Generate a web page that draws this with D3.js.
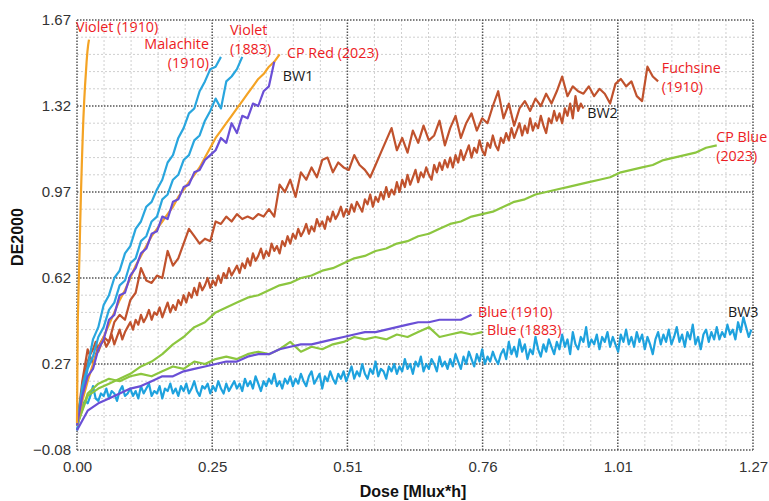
<!DOCTYPE html>
<html>
<head>
<meta charset="utf-8">
<script src="https://cdn.jsdelivr.net/npm/d3@7/dist/d3.min.js"></script>
<style>
    body { margin: 0; background: #fff; }
    svg { display: block; }
</style>
</head>
<body>
<svg id="chart" width="769" height="501"></svg>
<script>
// Axis ranges and ticks
const doseMax = 1.268;
const deMin = -0.08, deMax = 1.67;
const xTicks = [0, 0.2536, 0.5072, 0.7608, 1.0144, 1.268];
const yTicks = [-0.08, 0.27, 0.62, 0.97, 1.32, 1.67];

// DE2000 readings, one value per dose step (Mlux*h)
const violet1910Step = 0.0015;
const violet1910DE = [0.03, 0.45, 0.58, 0.70, 0.84, 0.97, 1.08, 1.18, 1.27, 1.34, 1.40, 1.45, 1.50, 1.54, 1.57, 1.59];

const malachite1910Step = 0.01;
const malachite1910DE = [0.02, 0.18, 0.26, 0.37, 0.42, 0.51, 0.55, 0.62, 0.65, 0.72, 0.75, 0.82, 0.85, 0.91,
    0.93, 0.98, 1.02, 1.09, 1.12, 1.19, 1.23, 1.29, 1.31, 1.38, 1.42, 1.47, 1.48, 1.52];

const violet1883Step = 0.01;
const violet1883DE = [0.02, 0.14, 0.25, 0.30, 0.38, 0.42, 0.49, 0.52, 0.59, 0.61, 0.68, 0.70, 0.77, 0.79, 0.85, 0.87,
    0.94, 0.96, 1.02, 1.04, 1.10, 1.12, 1.18, 1.20, 1.26, 1.30, 1.35, 1.31, 1.42, 1.44, 1.47, 1.52];

const cpRedStep = 0.01;
const cpRedDE = [0.02, 0.12, 0.20, 0.27, 0.33, 0.38, 0.43, 0.48, 0.53, 0.57, 0.62, 0.67, 0.71, 0.75, 0.79, 0.82,
    0.85, 0.88, 0.91, 0.95, 0.98, 1.01, 1.04, 1.07, 1.11, 1.15, 1.19, 1.22, 1.25, 1.28, 1.31, 1.34, 1.37, 1.40,
    1.43, 1.45, 1.48, 1.50, 1.53];

const bw1Step = 0.01;
const bw1DE = [0.02, 0.14, 0.22, 0.25, 0.33, 0.37, 0.45, 0.47, 0.55, 0.56, 0.63, 0.66, 0.72, 0.74, 0.80, 0.81,
    0.87, 0.86, 0.93, 0.94, 0.99, 1.00, 1.05, 1.06, 1.10, 1.12, 1.14, 1.19, 1.17, 1.25, 1.21, 1.28, 1.27, 1.33,
    1.32, 1.38, 1.40, 1.50];

const fuchsine1910Step = 0.01;
const fuchsine1910DE = [0.02, 0.20, 0.33, 0.27, 0.34, 0.38, 0.36, 0.44, 0.47, 0.45,
    0.53, 0.56, 0.66, 0.61, 0.60, 0.63, 0.62, 0.73, 0.67, 0.70,
    0.76, 0.82, 0.79, 0.76, 0.78, 0.77, 0.85, 0.84, 0.87, 0.85,
    0.88, 0.86, 0.87, 0.86, 0.88, 0.87, 0.90, 0.87, 1.00, 0.97,
    1.02, 0.95, 1.05, 1.02, 1.07, 1.03, 1.10, 1.11, 1.05, 1.09,
    1.07, 1.06, 1.12, 1.08, 1.06, 1.03, 1.08, 1.13, 1.18, 1.23,
    1.14, 1.19, 1.13, 1.22, 1.17, 1.24, 1.18, 1.20, 1.26, 1.16,
    1.23, 1.28, 1.19, 1.25, 1.29, 1.22, 1.27, 1.25, 1.32, 1.38,
    1.27, 1.33, 1.24, 1.31, 1.34, 1.30, 1.35, 1.32, 1.37, 1.33,
    1.38, 1.44, 1.36, 1.40, 1.38, 1.37, 1.40, 1.36, 1.39, 1.37,
    1.33, 1.41, 1.43, 1.40, 1.42, 1.36, 1.34, 1.48, 1.44, 1.42];

const bw2Step = 0.005;
const bw2DE = [0.02, 0.10, 0.17, 0.23, 0.28, 0.31, 0.33, 0.36, 0.32, 0.35, 0.37, 0.34, 0.36, 0.39, 0.35, 0.38, 0.41, 0.37, 0.40, 0.42,
    0.44, 0.41, 0.45, 0.43, 0.47, 0.44, 0.46, 0.49, 0.45, 0.48, 0.47, 0.50, 0.46, 0.49, 0.52, 0.48, 0.51, 0.49, 0.53, 0.51,
    0.55, 0.52, 0.56, 0.54, 0.58, 0.55, 0.60, 0.57, 0.59, 0.62, 0.58, 0.61, 0.59, 0.63, 0.60, 0.64, 0.62, 0.66, 0.63, 0.65,
    0.67, 0.64, 0.68, 0.66, 0.70, 0.67, 0.72, 0.69, 0.71, 0.74, 0.70, 0.73, 0.71, 0.76, 0.73, 0.75, 0.72, 0.77, 0.75, 0.79,
    0.76, 0.80, 0.78, 0.82, 0.79, 0.81, 0.84, 0.80, 0.83, 0.81, 0.86, 0.83, 0.85, 0.82, 0.87, 0.85, 0.89, 0.86, 0.88, 0.91,
    0.87, 0.90, 0.88, 0.92, 0.89, 0.93, 0.91, 0.89, 0.94, 0.92, 0.96, 0.91, 0.95, 0.93, 0.97, 0.94, 0.99, 0.95, 0.98, 0.96,
    1.01, 0.97, 1.02, 0.99, 1.04, 1.00, 1.03, 1.06, 1.01, 1.05, 1.03, 1.07, 1.04, 1.02, 1.08, 1.05, 1.09, 1.06, 1.10, 1.07,
    1.11, 1.07, 1.12, 1.09, 1.14, 1.10, 1.13, 1.16, 1.11, 1.15, 1.13, 1.18, 1.14, 1.12, 1.17, 1.15, 1.20, 1.16, 1.14, 1.19,
    1.17, 1.21, 1.18, 1.23, 1.19, 1.22, 1.25, 1.20, 1.24, 1.21, 1.27, 1.22, 1.25, 1.23, 1.28, 1.24, 1.21, 1.27, 1.25, 1.30,
    1.26, 1.29, 1.25, 1.31, 1.28, 1.33, 1.27, 1.36, 1.30, 1.33, 1.31];

const cpBlueStep = 0.02;
const cpBlueDE = [0.02, 0.14, 0.17, 0.19, 0.21, 0.23, 0.26, 0.28, 0.31, 0.35,
    0.38, 0.42, 0.44, 0.48, 0.50, 0.52, 0.54, 0.55, 0.57, 0.59,
    0.60, 0.62, 0.63, 0.65, 0.66, 0.68, 0.70, 0.71, 0.73, 0.74,
    0.76, 0.77, 0.79, 0.80, 0.82, 0.84, 0.85, 0.87, 0.88, 0.89,
    0.91, 0.93, 0.94, 0.96, 0.97, 0.98, 0.99, 1.00, 1.01, 1.02,
    1.03, 1.05, 1.06, 1.07, 1.08, 1.10, 1.11, 1.12, 1.13, 1.15, 1.16];

const blue1910Step = 0.02;
const blue1910DE = [0.00, 0.08, 0.11, 0.13, 0.15, 0.17, 0.18, 0.20, 0.22, 0.22,
    0.24, 0.25, 0.26, 0.27, 0.28, 0.28, 0.30, 0.31, 0.31, 0.33,
    0.34, 0.35, 0.35, 0.36, 0.37, 0.38, 0.39, 0.40, 0.40, 0.41,
    0.42, 0.43, 0.44, 0.44, 0.45, 0.45, 0.45, 0.47];

const blue1883Step = 0.02;
const blue1883DE = [0.02, 0.15, 0.19, 0.21, 0.20, 0.22, 0.23, 0.22, 0.24, 0.26,
    0.25, 0.28, 0.27, 0.29, 0.30, 0.29, 0.31, 0.32, 0.31, 0.33,
    0.36, 0.32, 0.34, 0.33, 0.35, 0.36, 0.38, 0.37, 0.38, 0.37,
    0.39, 0.38, 0.40, 0.42, 0.38, 0.39, 0.40, 0.39, 0.40];

const bw3Step = 0.005;
const bw3DE = [0.00, 0.06, 0.10, 0.12, 0.11, 0.14, 0.18, 0.13, 0.12, 0.15, 0.14, 0.17, 0.13, 0.16, 0.15, 0.12, 0.16, 0.18, 0.14, 0.15,
    0.17, 0.14, 0.16, 0.13, 0.18, 0.15, 0.17, 0.19, 0.14, 0.16, 0.15, 0.18, 0.13, 0.17, 0.16, 0.19, 0.15, 0.17, 0.14, 0.18,
    0.16, 0.19, 0.15, 0.17, 0.20, 0.16, 0.14, 0.18, 0.17, 0.19, 0.15, 0.18, 0.16, 0.20, 0.17, 0.15, 0.19, 0.16, 0.18, 0.20,
    0.17, 0.19, 0.16, 0.21, 0.18, 0.20, 0.17, 0.22, 0.19, 0.16, 0.20, 0.18, 0.21, 0.19, 0.23, 0.18, 0.20, 0.17, 0.21, 0.19,
    0.22, 0.18, 0.21, 0.19, 0.23, 0.20, 0.18, 0.22, 0.24, 0.19, 0.21, 0.23, 0.17, 0.22, 0.20, 0.24, 0.21, 0.19, 0.23, 0.21,
    0.24, 0.20, 0.23, 0.26, 0.21, 0.24, 0.22, 0.27, 0.23, 0.21, 0.25, 0.23, 0.28, 0.22, 0.25, 0.24, 0.21, 0.26, 0.24, 0.27,
    0.23, 0.26, 0.24, 0.29, 0.25, 0.27, 0.23, 0.28, 0.26, 0.30, 0.24, 0.27, 0.25, 0.29, 0.27, 0.24, 0.30, 0.26, 0.28, 0.25,
    0.29, 0.26, 0.31, 0.28, 0.25, 0.30, 0.27, 0.32, 0.29, 0.26, 0.31, 0.28, 0.33, 0.27, 0.30, 0.28, 0.32, 0.29, 0.27, 0.31,
    0.33, 0.29, 0.36, 0.31, 0.34, 0.30, 0.37, 0.32, 0.35, 0.29, 0.33, 0.31, 0.38, 0.33, 0.30, 0.35, 0.32, 0.37, 0.34, 0.31,
    0.36, 0.33, 0.39, 0.34, 0.37, 0.31, 0.40, 0.35, 0.33, 0.38, 0.36, 0.42, 0.34, 0.37, 0.35, 0.39, 0.33, 0.38, 0.36, 0.40,
    0.34, 0.38, 0.35, 0.32, 0.39, 0.36, 0.41, 0.35, 0.38, 0.34, 0.40, 0.36, 0.39, 0.33, 0.38, 0.35, 0.31, 0.37, 0.40, 0.35,
    0.39, 0.36, 0.41, 0.35, 0.38, 0.42, 0.36, 0.39, 0.34, 0.40, 0.37, 0.43, 0.35, 0.38, 0.33, 0.39, 0.41, 0.36, 0.40, 0.37,
    0.42, 0.37, 0.40, 0.38, 0.43, 0.39, 0.41, 0.37, 0.44, 0.40, 0.46, 0.42, 0.38, 0.41];

const red = "#ed1c24", black = "#1a1a1a";

// drawn back to front
const series = [
    { name: "BW3", color: "#1ea2de", step: bw3Step, values: bw3DE },
    { name: "Blue (1883)", color: "#8cc63f", step: blue1883Step, values: blue1883DE },
    { name: "Blue (1910)", color: "#6a4fd6", step: blue1910Step, values: blue1910DE },
    { name: "CP Blue (2023)", color: "#8cc63f", step: cpBlueStep, values: cpBlueDE },
    { name: "BW2", color: "#c0522d", step: bw2Step, values: bw2DE },
    { name: "Fuchsine (1910)", color: "#c0522d", step: fuchsine1910Step, values: fuchsine1910DE },
    { name: "Violet (1883)", color: "#29a6de", step: violet1883Step, values: violet1883DE },
    { name: "Malachite (1910)", color: "#29a6de", step: malachite1910Step, values: malachite1910DE },
    { name: "CP Red (2023)", color: "#f4a324", step: cpRedStep, values: cpRedDE },
    { name: "BW1", color: "#6a4fd6", step: bw1Step, values: bw1DE },
    { name: "Violet (1910)", color: "#f4a324", step: violet1910Step, values: violet1910DE }
];

// text annotations, anchored in data units
const annotations = [
    { lines: ["Violet (1910)"], dose: -0.002, de: 1.621, anchor: "start", color: red },
    { lines: ["Malachite", "(1910)"], dose: 0.2476, de: 1.552, anchor: "end", color: red },
    { lines: ["Violet", "(1883)"], dose: 0.287, de: 1.609, anchor: "start", color: red },
    { lines: ["CP Red (2023)"], dose: 0.394, de: 1.515, anchor: "start", color: red },
    { lines: ["BW1"], dose: 0.386, de: 1.422, anchor: "start", color: black },
    { lines: ["Fuchsine", "(1910)"], dose: 1.097, de: 1.454, anchor: "start", color: red },
    { lines: ["BW2"], dose: 0.957, de: 1.271, anchor: "start", color: black },
    { lines: ["CP Blue", "(2023)"], dose: 1.199, de: 1.173, anchor: "start", color: red },
    { lines: ["Blue (1910)"], dose: 0.752, de: 0.461, anchor: "start", color: red },
    { lines: ["Blue (1883)"], dose: 0.769, de: 0.388, anchor: "start", color: red },
    { lines: ["BW3"], dose: 1.221, de: 0.461, anchor: "start", color: black }
];

const svg = d3.select("#chart");
svg.append("rect").attr("width", 769).attr("height", 501).attr("fill", "#fff");

const x = d3.scaleLinear().domain([0, doseMax]).range([77, 753]);
const y = d3.scaleLinear().domain([deMin, deMax]).range([450, 20]);

// Grid: 5 minor divisions per major step
const gGrid = svg.append("g");
const xMinor = d3.range(0, 26).map(i => i * doseMax / 25).filter((d, i) => i % 5 !== 0);
const yMinor = d3.range(0, 26).map(i => deMin + i * 0.07).filter((d, i) => i % 5 !== 0);

gGrid.selectAll(".xminor").data(xMinor).join("line")
    .attr("x1", d => x(d)).attr("x2", d => x(d))
    .attr("y1", y(deMin)).attr("y2", y(deMax))
    .attr("stroke", "#cfcfcf").attr("stroke-width", 1).attr("stroke-dasharray", "2,2");
gGrid.selectAll(".yminor").data(yMinor).join("line")
    .attr("y1", d => y(d)).attr("y2", d => y(d))
    .attr("x1", x(0)).attr("x2", x(doseMax))
    .attr("stroke", "#cfcfcf").attr("stroke-width", 1).attr("stroke-dasharray", "2,2");

gGrid.selectAll(".xmajor").data(xTicks).join("line")
    .attr("x1", d => x(d)).attr("x2", d => x(d))
    .attr("y1", y(deMin)).attr("y2", y(deMax))
    .attr("stroke", "#555").attr("stroke-width", 1.5).attr("stroke-dasharray", "1.5,1.5");
gGrid.selectAll(".ymajor").data(yTicks).join("line")
    .attr("y1", d => y(d)).attr("y2", d => y(d))
    .attr("x1", x(0)).attr("x2", x(doseMax))
    .attr("stroke", "#555").attr("stroke-width", 1.5).attr("stroke-dasharray", "1.5,1.5");

// Axes (labels only)
const fmt = d3.format(".2f");
const xAxis = svg.append("g").attr("transform", `translate(0,${y(deMin)})`)
    .call(d3.axisBottom(x).tickValues(xTicks).tickFormat(fmt).tickSize(0).tickPadding(11));
const yAxis = svg.append("g").attr("transform", `translate(${x(0)},0)`)
    .call(d3.axisLeft(y).tickValues(yTicks).tickFormat(fmt).tickSize(0).tickPadding(6));
[xAxis, yAxis].forEach(a => {
    a.select(".domain").remove();
    a.selectAll("text")
        .attr("font-family", "Liberation Sans, Arial, sans-serif")
        .attr("font-size", 15)
        .attr("fill", "#333");
});

svg.append("text")
    .attr("x", 413).attr("y", 497)
    .attr("text-anchor", "middle")
    .attr("font-family", "Liberation Sans, Arial, sans-serif")
    .attr("font-size", 16).attr("font-weight", "bold").attr("fill", "#111")
    .text("Dose [Mlux*h]");

svg.append("text")
    .attr("transform", "translate(23,237) rotate(-90)")
    .attr("text-anchor", "middle")
    .attr("font-family", "Liberation Sans, Arial, sans-serif")
    .attr("font-size", 16).attr("font-weight", "bold").attr("fill", "#111")
    .text("DE2000");

// Curves
const line = d3.line()
    .x(d => x(d[0]))
    .y(d => y(d[1]));

svg.append("g").selectAll("path")
    .data(series)
    .join("path")
    .attr("fill", "none")
    .attr("stroke", d => d.color)
    .attr("stroke-width", 2.2)
    .attr("stroke-linejoin", "round")
    .attr("d", d => line(d.values.map((v, i) => [i * d.step, v])));

// Labels
const gLab = svg.append("g")
    .attr("font-family", "Open Sans, sans-serif")
    .attr("font-size", 14.3);

annotations.forEach(a => {
    const t = gLab.append("text")
        .attr("x", x(a.dose))
        .attr("y", y(a.de))
        .attr("text-anchor", a.anchor)
        .attr("fill", a.color);
    a.lines.forEach((l, i) => {
        t.append("tspan")
            .attr("x", x(a.dose))
            .attr("dy", i === 0 ? 0 : 19)
            .text(l);
    });
});
</script>
</body>
</html>
